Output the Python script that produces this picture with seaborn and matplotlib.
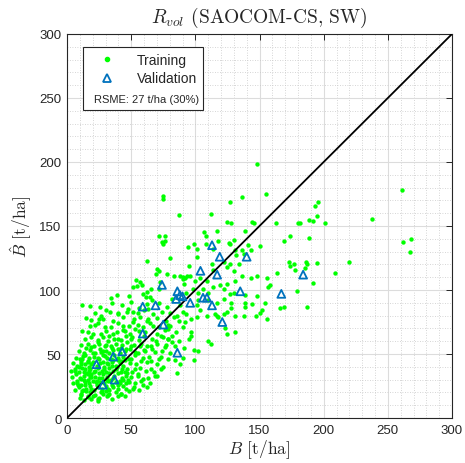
import matplotlib
matplotlib.use('Agg')
import matplotlib.pyplot as plt
from matplotlib.lines import Line2D
from matplotlib.ticker import MultipleLocator
import seaborn as sns
import pandas as pd

# training samples (B, B_hat) in t/ha
train_core = [
    (10,16),(13,14),(16,17),(19,15),(22,18),(25,16),(28,19),(31,17),(35,15),(38,20),(42,19),(45,17),(24,13),(30,21),(18,20),
    (6,22),(9,24),(12,21),(15,23),(18,25),(21,22),(24,24),(27,23),(30,25),(33,22),(36,24),(40,23),(44,25),(48,21),(52,24),(56,22),(62,24),(14,26),
    (5,27),(8,29),(11,26),(14,28),(17,27),(20,29),(23,26),(26,28),(29,27),(32,29),(35,26),(38,28),(41,27),(44,30),(48,28),(53,27),(58,29),(65,27),
    (4,32),(7,34),(10,31),(13,33),(16,30),(19,34),(22,32),(25,31),(28,34),(31,32),(34,30),(37,33),(40,35),(43,31),(46,33),(50,32),(55,34),(63,31),(70,33),
    (3,37),(6,38),(9,36),(12,39),(15,35),(18,38),(21,36),(24,39),(27,37),(30,36),(33,39),(36,37),(39,40),(42,36),(47,38),(51,36),(57,39),(68,36),(75,40),
    (5,43),(8,41),(11,44),(14,42),(17,40),(20,44),(23,41),(26,43),(29,40),(32,42),(35,44),(38,41),(41,43),(44,41),(49,43),(54,42),(62,44),(70,42),
    (7,47),(10,46),(14,49),(17,47),(21,48),(25,46),(28,49),(31,47),(34,46),(37,49),(40,47),(44,48),(48,46),(53,49),(59,47),(64,48),(72,46),
    (9,52),(13,51),(18,53),(22,51),(26,54),(30,52),(33,51),(36,53),(41,51),(45,52),(49,54),(55,51),(60,53),(66,54),(74,52),(80,51),
    (11,57),(16,58),(21,56),(25,58),(30,57),(34,56),(38,58),(43,57),(47,59),(52,57),(58,58),(62,56),(70,58),(77,57),(84,56),
    (14,62),(19,63),(24,61),(28,63),(33,64),(37,62),(42,61),(46,64),(51,63),(56,61),(60,64),(66,62),(75,63),(82,64),
    (12,68),(20,66),(30,68),(39,67),(44,69),(49,66),(56,68),(61,67),(70,66),(76,69),(85,67),
    (18,72),(24,74),(34,71),(40,74),(48,72),(55,73),(59,71),(65,74),(72,71),(80,72),(90,71),
    (15,78),(28,77),(36,76),(44,79),(52,77),(57,79),(62,76),(70,78),(77,76),(83,79),
    (22,82),(30,84),(40,81),(47,83),(55,82),(60,84),(67,81),(74,83),(80,82),
    (12,88),(26,87),(35,90),(43,88),(50,91),(56,86),(62,89),(66,92),(72,90),(78,87),(82,93),(34,94),(48,95),
]
train_dense = [
    (11,19),(15,21),(20,17),(27,21),(33,19),(40,17),(8,27),(13,30),(18,32),(23,29),(27,31),(31,30),(36,31),(41,29),
    (46,27),(9,40),(13,36),(17,37),(22,37),(25,35),(29,38),(33,35),(38,38),(43,38),(47,35),(12,46),(16,44),(19,42),
    (24,47),(28,44),(31,43),(36,45),(40,45),(45,45),(20,51),(28,52),(35,55),(15,55),(42,55),(50,56),(24,40),(35,41),
]
train_low = [
    (17.7,87.8),(33.3,82.6),(39.8,82.1),(26.8,80.0),(24.7,77.4),(19.0,76.9),(47.6,85.2),(51.5,82.6),(63.2,85.2),
    (51.5,74.8),(43.7,72.2),(29.4,70.9),(21.6,72.7),(16.4,67.0),(26.8,65.7),(35.9,65.7),(45.0,68.3),(52.8,69.6),
    (63.2,77.4),(67.1,72.2),(73.6,64.4),(78.8,69.6),(78.8,61.8),(69.7,60.5),(65.8,56.6),(56.7,56.6),(50.2,61.8),
    (39.8,61.8),(32.0,60.5),(29.4,56.6),(24.2,59.2),(19.0,55.3),(12.5,48.8),(11.2,42.3),(16.4,44.9),(6.0,37.1),
    (13.8,38.4),(29.4,48.8),(26.8,51.4),(39.8,54.0),(46.3,54.0),(52.8,51.4),(60.6,52.7),(68.4,51.4),(76.2,55.3),
    (73.6,47.5),(65.8,44.9),(58.0,44.9),(50.2,46.2),(42.4,44.9),(61.9,37.1),(52.8,38.4),(55.4,33.2),(65.8,38.4),
    (73.6,38.4),(45.0,35.8),(47.6,29.3),(39.8,25.4),(46.3,22.8),(42.4,18.9),(32.0,22.8),(26.8,20.2),(22.9,28.0),
    (19.0,31.9),(16.4,34.5),(11.2,30.6),(8.6,25.4),(12.5,21.5),(19.0,22.8),(11.2,17.6),(16.4,16.3),(24.2,15.0),
    (32.0,17.6),(51.5,22.8),(59.3,25.4),(68.4,32.7),(59.3,30.6),
]
train_upper = [
    (75.1,173.2),(87.6,158.6),(71.5,142.4),(76.2,141.9),(74.1,137.7),(76.7,138.3),(75.1,135.7),(80.3,125.2),
    (62.2,122.7),(70.0,116.4),(71.5,114.8),(69.4,112.5),(78.2,112.5),(83.5,110.7),(88.1,111.2),(94.6,133.4),
    (53.8,108.0),(56.9,106.0),(54.8,103.4),(58.3,103.9),(51.7,102.1),(39.2,96.1),(72.5,106.5),(65.3,100.8),
    (62.6,98.2),(59.5,96.9),(61.6,94.3),(71.5,100.8),(64.7,94.3),(93.4,111.2),(90.2,108.6),
]
train_mid = [
    (136,173),(155,175),(127,169),(163,152),(180,152),(174,142),(169,138),(150,134),(173,122),(174,119),
    (178,116),(177,120),(164,113),(156,109),(179,99),(169,87),(166,86),(187,87),(195,158),(144,153),
    (146,152),(139,146),(128,152),(125,153),(112,159),(117,146),(107,145),(108,142),(99,136),(101,132),
    (108,136),(114,132),(118,138),(126,137),(130,139),(127,136),(131,131),(132,127),(136,131),(138,128),
    (141,135),(143,131),(101,126),(95,119),(90,110),(92,109),(96,111),(100,107),(104,109),(109,107),
    (113,120),(114,116),(122,122),(125,118),(127,120),(130,115),(134,120),(136,111),(143,109),(148,111),
    (119,104),(125,105),(131,107),(114,102),(122,101),(127,97),(130,98),(139,96),(148,95),(144,89),
    (128,86),(122,93),(117,90),(98,101),(93,98),(91,105),(102,98),(106,101),(110,98),(88,88),
    (93,81),(101,88),(104,84),(117,80),(125,83),(138,80),(147,80),(158,104),(157,102),(154,90),(152,84),
    (102,92),(110,92),(128,90),(139,90),(139,87),(150,82),(156,77),(115,81),(122,81),(131,80),(118,79),
    (109,80),(101,79),(97,77),(92,75),(87,76),(79,73),(78,70),(86,80),(90,83),(97,67),(97,64),(95,62),
    (87,60),(79,62),(82,59),(110,60),(112,58),(125,66),(131,67),(123,70),(91,55),(99,53),(102,52),
    (79,46),(84,45),(90,47),(99,45),(88,42),(86,35),
]
train_tail = [
    (261.1,178.4),(193.4,165.4),(195.9,169.0),(188.9,154.9),(191.6,153.9),(201.2,152.1),(237.6,155.5),
    (181.7,152.3),(188.9,140.4),(261.8,137.3),(268.0,139.8),(267.4,129.5),(186.4,121.6),(187.4,120.3),
    (194.7,121.1),(219.4,121.9),(185.6,116.9),(208.5,113.0),(191.3,105.2),(148.2,198.4),(74.9,171.1),
]

# validation samples
valid_b = [23, 28, 36, 37, 43, 59, 59, 69, 75, 74, 86, 86, 88, 85, 90, 96, 104, 106, 109, 113, 113, 117, 119, 121, 135, 140, 167, 184]
valid_bhat = [42, 26, 48, 30, 52, 66, 87, 88, 73, 104, 51, 99, 96, 93, 95, 90, 115, 94, 94, 135, 88, 112, 126, 75, 99, 126, 97, 112]

one_to_one = [0, 300]
ticks = [0, 50, 100, 150, 200, 250, 300]
rsme_label = 'RSME: 27 t/ha (30%)'

train = pd.DataFrame(train_core + train_dense + train_low + train_upper + train_mid + train_tail, columns=['B', 'Bhat'])
valid = pd.DataFrame({'B': valid_b, 'Bhat': valid_bhat})
diag = pd.DataFrame({'B': one_to_one, 'Bhat': one_to_one})

sns.set_theme(style='white')
plt.rcParams['font.family'] = ['Liberation Sans', 'DejaVu Sans']
plt.rcParams['mathtext.fontset'] = 'cm'

green = '#00FF00'
blue = '#0072BD'

fig = plt.figure(figsize=(4.65, 4.64), dpi=100)
ax = fig.add_axes([67/465, 1 - 419/464, 385/465, 384/464])

sns.scatterplot(data=train, x='B', y='Bhat', color=green, s=10, linewidth=0, ax=ax, zorder=3)
sns.lineplot(data=diag, x='B', y='Bhat', color='black', linewidth=1.3, ax=ax, zorder=4)
ax.scatter(valid['B'], valid['Bhat'], marker='^', s=32, facecolors='none', edgecolors=blue, linewidths=1.3, zorder=5)

ax.set_xlim(0, 300)
ax.set_ylim(0, 300)
ax.set_xticks(ticks)
ax.set_yticks(ticks)
ax.xaxis.set_minor_locator(MultipleLocator(10))
ax.yaxis.set_minor_locator(MultipleLocator(10))
ax.grid(which='major', color='#DCDCDC', linewidth=0.8, linestyle='-')
ax.grid(which='minor', color='#C8C8C8', linewidth=0.6, linestyle=(0, (1, 2)))
ax.set_axisbelow(True)
ax.tick_params(which='major', direction='in', length=4, width=0.7, color='#262626',
               top=True, right=True, labelsize=9.5, labelcolor='#262626', pad=4)
ax.tick_params(which='minor', length=0)
for s in ax.spines.values():
    s.set_color('#262626')
    s.set_linewidth(0.8)

ax.set_xlabel(r'$B$ [t/ha]', family='cmr10', fontsize=12.5, labelpad=1, color='#262626')
ax.set_ylabel(r'$\hat{B}$ [t/ha]', family='cmr10', fontsize=12.5, labelpad=4, color='#262626')
ax.set_title(r'$R_{vol}$ (SAOCOM-CS, SW)', family='cmr10', fontsize=14, pad=9, color='#262626')

handles = [
    Line2D([], [], linestyle='none', marker='o', markersize=3, markerfacecolor=green, markeredgecolor=green),
    Line2D([], [], linestyle='none', marker='^', markersize=6, markerfacecolor='none', markeredgecolor=blue, markeredgewidth=1.3),
    Line2D([], [], linestyle='none'),
]
leg = ax.legend(handles, ['Training', 'Validation', ' '], loc='upper left',
                bbox_to_anchor=(16/385, 371/384), borderaxespad=0, fancybox=False,
                edgecolor='#262626', framealpha=1, fontsize=10, handlelength=2.6,
                handletextpad=0.9, borderpad=0.4, labelspacing=0.35)
leg.get_frame().set_linewidth(0.8)
ax.text(0.206, 0.831, rsme_label, transform=ax.transAxes, ha='center', va='center', fontsize=8, zorder=10)

fig.savefig('out.png', dpi=100)
